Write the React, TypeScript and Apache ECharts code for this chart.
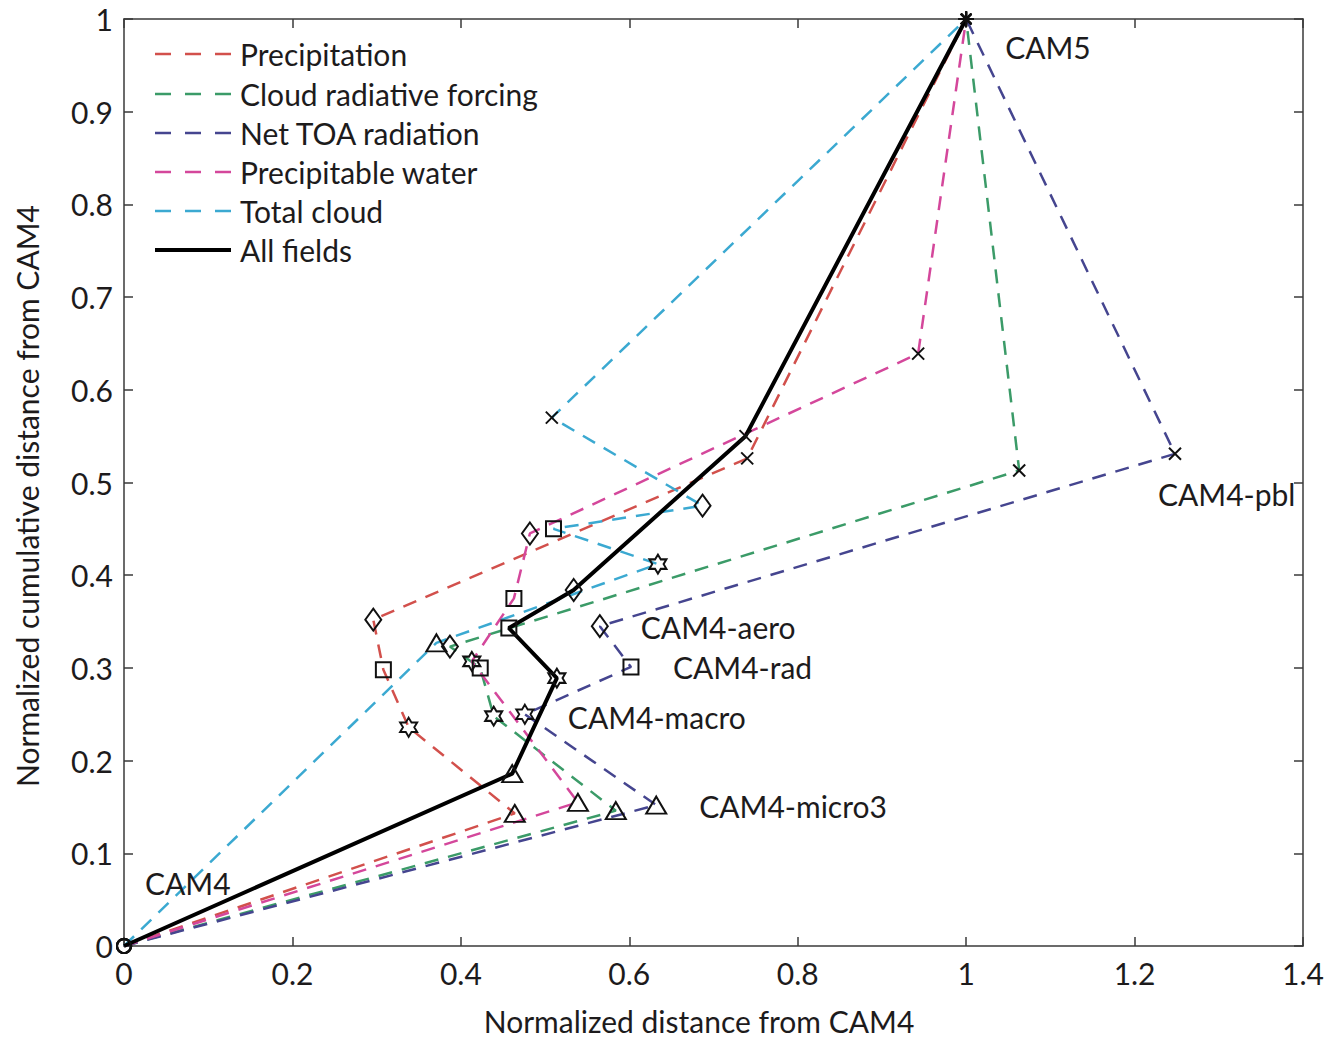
import React, { useEffect, useRef } from "react";
import * as echarts from "echarts";

// Configurations, in the order each path visits them
const CONFIGS = ["CAM4", "CAM4-micro3", "CAM4-macro", "CAM4-rad", "CAM4-aero", "CAM4-pbl", "CAM5"];

// [normalized distance, normalized cumulative distance] per configuration
const PRECIPITATION = [[0, 0], [0.464, 0.143], [0.338, 0.236], [0.308, 0.298], [0.296, 0.352], [0.740, 0.526], [1, 1]];
const CLOUD_RAD_FORCING = [[0, 0], [0.584, 0.146], [0.439, 0.248], [0.423, 0.300], [0.387, 0.323], [1.063, 0.513], [1, 1]];
const NET_TOA = [[0, 0], [0.632, 0.152], [0.476, 0.250], [0.602, 0.301], [0.565, 0.345], [1.248, 0.531], [1, 1]];
const PRECIP_WATER = [[0, 0], [0.539, 0.155], [0.413, 0.307], [0.463, 0.375], [0.482, 0.445], [0.943, 0.639], [1, 1]];
const TOTAL_CLOUD = [[0, 0], [0.371, 0.327], [0.634, 0.412], [0.510, 0.450], [0.687, 0.475], [0.508, 0.570], [1, 1]];
const ALL_FIELDS = [[0, 0], [0.461, 0.186], [0.514, 0.289], [0.457, 0.343], [0.534, 0.384], [0.738, 0.550], [1, 1]];

const SERIES_NAMES = ["Precipitation", "Cloud radiative forcing", "Net TOA radiation", "Precipitable water", "Total cloud", "All fields"];

// styles
const FONT = "Lato";
const FONT_SIZE = 30;
const TEXT_COLOR = "#1d1b1c";
const AXIS_COLOR = "#3a3a3a";
const COLORS = ["#d2504c", "#3b9b68", "#45458f", "#d4479b", "#3ba9d1", "#000000"];
const HEXAGRAM = "path://M10 0L12.887 5L18.66 5L15.774 10L18.66 15L12.887 15L10 20L7.113 15L1.34 15L4.226 10L1.34 5L7.113 5Z";
const XMARK = "path://M0 0L20 20M20 0L0 20";
const ASTERISK = "path://M0 10L20 10M10 0L10 20M3 3L17 17M17 3L3 17";
const MARKERS = ["circle", "triangle", HEXAGRAM, "rect", "diamond", XMARK, ASTERISK];
const MARKER_SIZES: any[] = [14, [20, 17], [17, 19], 15, [16, 22], 12, 15];
const LABEL_OFFSETS = [[21, -63], [43, 1], [43, 3], [42, 0], [41, 1], [-17, 40], [39, 28]];

export default function App() {
  const ref = useRef<HTMLDivElement>(null);

  useEffect(() => {
    if (!ref.current) return;
    const chart = echarts.init(ref.current, undefined, { renderer: "svg" });

    const datasets = [PRECIPITATION, CLOUD_RAD_FORCING, NET_TOA, PRECIP_WATER, TOTAL_CLOUD, ALL_FIELDS];

    const lineSeries = datasets.map((data, i) => {
      const isAll = i === 5;
      return {
        type: "line",
        name: SERIES_NAMES[i],
        data,
        clip: false,
        silent: true,
        z: isAll ? 4 : 2,
        showSymbol: true,
        showAllSymbol: true,
        symbol: (_v: any, p: any) => MARKERS[p.dataIndex],
        symbolSize: (_v: any, p: any) => MARKER_SIZES[p.dataIndex],
        lineStyle: isAll
          ? { color: COLORS[i], width: 4, type: "solid" }
          : { color: COLORS[i], width: 2.5, type: [14, 10] },
        itemStyle: { color: "rgba(0,0,0,0)", borderColor: "#111", borderWidth: 2 },
        emphasis: { disabled: true },
      };
    });

    const labelSeries = {
      type: "scatter",
      data: NET_TOA.map((p, i) => ({
        value: p,
        label: {
          show: true,
          formatter: CONFIGS[i],
          position: LABEL_OFFSETS[i],
          align: "left",
          verticalAlign: "middle",
          fontFamily: FONT,
          fontSize: FONT_SIZE,
          color: TEXT_COLOR,
          opacity: 1,
          textBorderWidth: 0,
        },
      })),
      symbolSize: 0,
      itemStyle: { color: TEXT_COLOR, opacity: 1 },
      clip: false,
      silent: true,
      z: 5,
    };

    const legendRows = [54, 94, 133, 172, 211, 250];
    const legendGraphics: any[] = [];
    SERIES_NAMES.forEach((name, i) => {
      const y = legendRows[i];
      const isAll = i === 5;
      legendGraphics.push({
        type: "line",
        shape: { x1: 155, y1: y, x2: 231, y2: y },
        style: isAll
          ? { stroke: COLORS[i], lineWidth: 4 }
          : { stroke: COLORS[i], lineWidth: 2.5, lineDash: [16, 14] },
        silent: true,
      });
      legendGraphics.push({
        type: "text",
        x: 240,
        y,
        style: {
          text: name,
          fontFamily: FONT,
          fontSize: FONT_SIZE,
          fill: TEXT_COLOR,
          textAlign: "left",
          textVerticalAlign: "middle",
        },
        silent: true,
      });
    });

    const axisCommon = {
      type: "value",
      axisLine: { show: true, onZero: false, lineStyle: { color: AXIS_COLOR, width: 1.5 } },
      axisTick: { show: true, inside: true, length: 9, lineStyle: { color: AXIS_COLOR, width: 1.5 } },
      splitLine: { show: false },
    };

    const option: any = {
      animation: false,
      backgroundColor: "#ffffff",
      grid: { left: 124, right: 24, top: 19, bottom: 94, containLabel: false },
      xAxis: [
        {
          ...axisCommon,
          position: "bottom",
          min: 0,
          max: 1.4,
          interval: 0.2,
          axisLabel: { fontFamily: FONT, fontSize: FONT_SIZE, color: TEXT_COLOR, margin: 12 },
        },
        {
          ...axisCommon,
          position: "top",
          min: 0,
          max: 1.4,
          interval: 0.2,
          axisLabel: { show: false },
        },
      ],
      yAxis: [
        {
          ...axisCommon,
          position: "left",
          min: 0,
          max: 1,
          interval: 0.1,
          axisLabel: { fontFamily: FONT, fontSize: FONT_SIZE, lineHeight: 24, color: TEXT_COLOR, margin: 11 },
        },
        {
          ...axisCommon,
          position: "right",
          min: 0,
          max: 1,
          interval: 0.1,
          axisLabel: { show: false },
        },
      ],
      series: [...lineSeries, labelSeries],
      graphic: [
        ...legendGraphics,
        {
          type: "text",
          x: 699,
          y: 1021,
          style: {
            text: "Normalized distance from CAM4",
            fontFamily: FONT,
            fontSize: FONT_SIZE,
            fill: TEXT_COLOR,
            textAlign: "center",
            textVerticalAlign: "middle",
          },
          silent: true,
        },
        {
          type: "text",
          x: 27,
          y: 496,
          rotation: Math.PI / 2,
          style: {
            text: "Normalized cumulative distance from CAM4",
            fontFamily: FONT,
            fontSize: FONT_SIZE,
            fill: TEXT_COLOR,
            textAlign: "center",
            textVerticalAlign: "middle",
          },
          silent: true,
        },
      ],
    };

    chart.setOption(option);
    return () => chart.dispose();
  }, []);

  return (
    <div
      ref={ref}
      style={{ position: "absolute", left: 0, top: 0, width: 1327, height: 1040, background: "#fff" }}
    />
  );
}
